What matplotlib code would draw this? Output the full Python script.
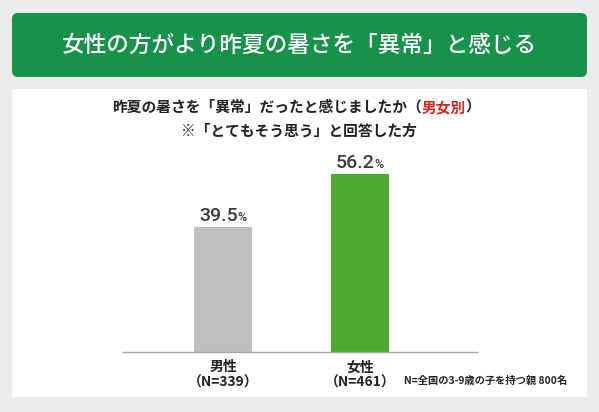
import matplotlib
matplotlib.use('Agg')
import matplotlib.pyplot as plt
from matplotlib.patches import FancyBboxPatch, Rectangle

plt.rcParams['font.family'] = ['Noto Sans CJK JP', 'DejaVu Sans']

# data
title = '女性の方がより昨夏の暑さを「異常」と感じる'
sub1_parts = ['昨夏の暑さを「異常」だったと感じましたか（', '男女別', '）']
sub2 = '※「とてもそう思う」と回答した方'
categories = ['男性', '女性']
counts = [339, 461]
values = [39.5, 56.2]
note = 'N=全国の3-9歳の子を持つ親 800名'

bar_colors = ['#bfbfbf', '#4ea72e']
W, H = 599, 412

fig = plt.figure(figsize=(W / 100, H / 100), dpi=100)
fig.patch.set_facecolor('#ebebeb')

# background axes in pixel coords (y down)
bg = fig.add_axes([0, 0, 1, 1])
bg.set_xlim(0, W)
bg.set_ylim(H, 0)
bg.axis('off')

bg.add_patch(FancyBboxPatch((12, 13), 575, 64, boxstyle='round,pad=0,rounding_size=6',
                            fc='#17924a', ec='none'))
bg.add_patch(Rectangle((12, 89), 575, 308, fc='white', ec='none'))

bg.text(299, 45, title, color='white', fontsize=16.3, fontweight='medium',
        ha='center', va='center')

# subtitle line with red part
renderer = fig.canvas.get_renderer()
sub_colors = ['#222222', '#d9261c', '#222222']
pieces = []
for s, c in zip(sub1_parts, sub_colors):
    t = bg.text(0, 107, s, color=c, fontsize=10.6, fontweight='bold', ha='left', va='center')
    pieces.append(t)
widths = [p.get_window_extent(renderer).width for p in pieces]
x0 = 296 - sum(widths) / 2
for p, w in zip(pieces, widths):
    p.set_x(x0)
    x0 += w

bg.text(299, 131, sub2, color='#222222', fontsize=10.6, fontweight='bold',
        ha='center', va='center')

bg.text(404, 381, note, color='#222222', fontsize=7.4, fontweight='bold',
        ha='left', va='center')

# chart axes
ax = fig.add_axes([123 / W, (H - 352) / H, (477 - 123) / W, 190 / H])
ax.set_zorder(2)
ax.patch.set_alpha(0)
xs = list(range(len(categories)))
ax.bar(xs, values, width=0.423, color=bar_colors)
ax.set_xlim(-0.730, 1.854)
ax.set_ylim(0, 60)
for sp in ['top', 'right', 'left']:
    ax.spines[sp].set_visible(False)
ax.spines['bottom'].set_color('#a6a6a6')
ax.spines['bottom'].set_linewidth(1)
ax.set_yticks([])
ax.set_xticks(xs, [f'{c}\n（N={n}）' for c, n in zip(categories, counts)])
ax.tick_params(axis='x', length=0, pad=6, labelsize=10, labelcolor='#222222')
for lb in ax.get_xticklabels():
    lb.set_fontweight('bold')
    lb.set_linespacing(1.15)

# value labels: number + smaller %
for x, v in zip(xs, values):
    t1 = ax.annotate(f'{v:.1f}', (x, v), xytext=(0, 4.5), textcoords='offset points',
                     ha='right', va='baseline', fontsize=14, color='#3a3a3a',
                     family=['Roboto', 'DejaVu Sans'], fontweight='medium')
    t2 = ax.annotate('%', (x, v), xytext=(0, 4.5), textcoords='offset points',
                     ha='left', va='baseline', fontsize=9, color='#3a3a3a',
                     family=['Roboto', 'DejaVu Sans'], fontweight='medium')
    w1 = t1.get_window_extent(renderer).width
    w2 = t2.get_window_extent(renderer).width
    shift = (w1 - w2) / 2 * 0.72
    t1.set_position((shift, 4.5))
    t2.set_position((shift - 0.5, 4.5))

fig.savefig('out.png', dpi=100, facecolor=fig.get_facecolor())
